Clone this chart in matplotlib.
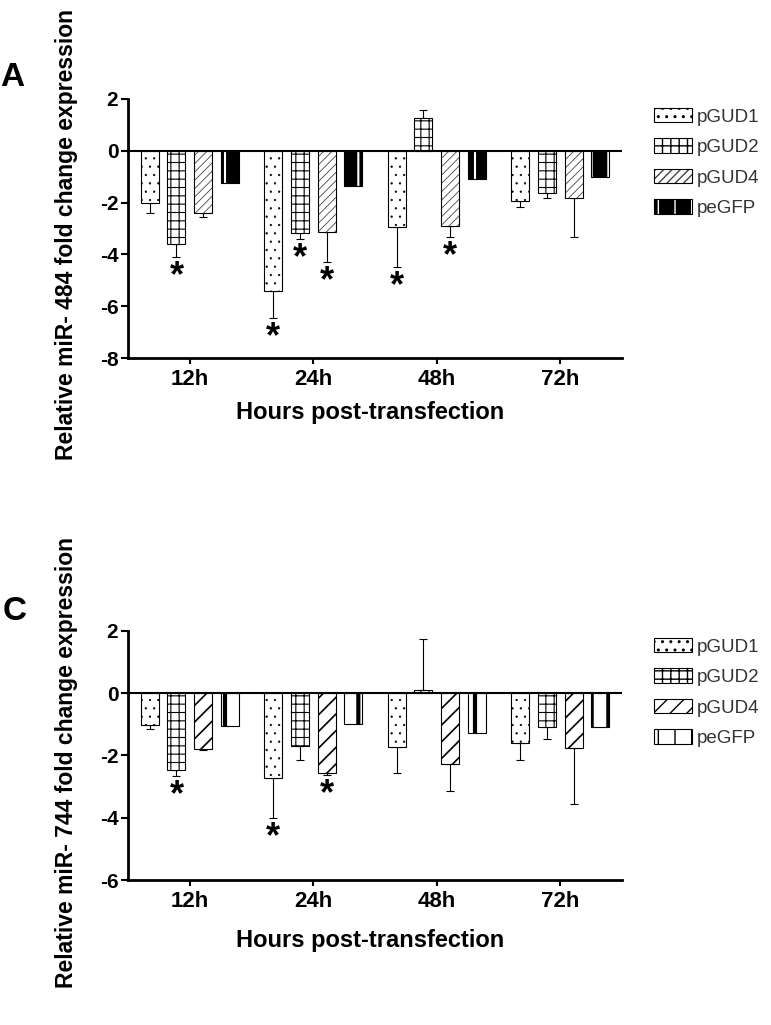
import numpy as np
import matplotlib
matplotlib.use('Agg')
import matplotlib.pyplot as plt
from matplotlib.patches import Patch

plt.rcParams['font.family'] = ['Liberation Sans', 'DejaVu Sans']
plt.rcParams['axes.unicode_minus'] = False

# data
hours = ['12h', '24h', '48h', '72h']
series = ['pGUD1', 'pGUD2', 'pGUD4', 'peGFP']

# panel A: miR-484
a_pgud1 = [-2.03, -5.40, -2.96, -1.93]
a_pgud2 = [-3.60, -3.17, 1.25, -1.64]
a_pgud4 = [-2.42, -3.13, -2.90, -1.84]
a_pegfp = [-1.24, -1.36, -1.10, -1.03]
a_err_pgud1 = [0.36, 1.07, 1.54, 0.23]
a_err_pgud2 = [0.52, 0.24, 0.32, 0.20]
a_err_pgud4 = [0.13, 1.18, 0.44, 1.50]
a_err_pegfp = [0, 0, 0, 0]
a_stars = [(0, 1), (1, 0), (1, 1), (1, 2), (2, 0), (2, 2)]  # (hour index, series index)

# panel C: miR-744
c_pgud1 = [-1.03, -2.72, -1.72, -1.59]
c_pgud2 = [-2.47, -1.70, 0.11, -1.08]
c_pgud4 = [-1.81, -2.56, -2.28, -1.78]
c_pegfp = [-1.07, -0.98, -1.27, -1.08]
c_err_pgud1 = [0.11, 1.29, 0.84, 0.56]
c_err_pgud2 = [0.20, 0.45, 1.61, 0.38]
c_err_pgud4 = [0.03, 0.08, 0.87, 1.78]
c_err_pegfp = [0, 0, 0, 0]
c_stars = [(0, 1), (1, 0), (1, 2)]

W, H = 771, 1025
step = 0.215
width = 0.146
offsets = (np.arange(4) - 1.5) * step
pos = np.arange(len(hours))


def set_hlw(patch, lw):
    if hasattr(patch, 'set_hatch_linewidth'):
        patch.set_hatch_linewidth(lw)


def draw_panel(ax, values, errors, stars, hatches, faces, hcolors, hlws, ymin):
    for i in range(len(series)):
        xs = pos + offsets[i]
        v = np.array(values[i])
        err = np.array(errors[i])
        fill = ax.bar(xs, v, width, color=faces[i], edgecolor=hcolors[i],
                      hatch=hatches[i], linewidth=0, zorder=2)
        for p in fill:
            set_hlw(p, hlws[i])
        ax.bar(xs, v, width, fill=False, edgecolor='black', linewidth=0.8, zorder=3)
        m = err > 0
        lower = np.where(v < 0, err, 0)
        upper = np.where(v >= 0, err, 0)
        if m.any():
            ax.errorbar(xs[m], v[m], yerr=[lower[m], upper[m]], fmt='none',
                        ecolor='black', elinewidth=0.8, capsize=3, capthick=0.8, zorder=1)
    for g, s in stars:
        v = values[s][g]
        e = errors[s][g]
        ax.annotate('*', (pos[g] + offsets[s], v - e), xytext=(0, -1.5),
                    textcoords='offset points', ha='center', va='top',
                    fontsize=26, fontweight='bold')

    ax.axhline(0, color='black', linewidth=1.5, zorder=4)
    ax.set_xlim(-0.5, 3.5)
    ax.set_ylim(ymin, 2)
    ax.set_yticks(range(ymin, 3, 2))
    ax.set_xticks(pos)
    ax.set_xticklabels(hours)
    for sp in ['top', 'right']:
        ax.spines[sp].set_visible(False)
    for sp in ['left', 'bottom']:
        ax.spines[sp].set_linewidth(2)
    ax.tick_params(axis='y', length=5, width=1.5, pad=2, labelsize=15)
    ax.tick_params(axis='x', length=4, width=1.5, pad=4, labelsize=16)
    for lab in ax.get_xticklabels() + ax.get_yticklabels():
        lab.set_fontweight('bold')

    handles = []
    for i in range(len(series)):
        p1 = Patch(facecolor=faces[i], edgecolor=hcolors[i], hatch=hatches[i], linewidth=0)
        set_hlw(p1, hlws[i])
        p2 = Patch(fill=False, edgecolor='black', linewidth=0.8)
        handles.append((p1, p2))
    return handles


fig = plt.figure(figsize=(W / 100, H / 100), dpi=100)

ax_a = fig.add_axes([128 / W, 1 - 358 / H, (622 - 128) / W, (358 - 98.9) / H])
h_a = draw_panel(ax_a,
                 [a_pgud1, a_pgud2, a_pgud4, a_pegfp],
                 [a_err_pgud1, a_err_pgud2, a_err_pgud4, a_err_pegfp],
                 a_stars,
                 ['..', '++', '////', '|'],
                 ['white', 'white', 'white', 'black'],
                 ['black', 'black', '#444444', 'white'],
                 [0.4, 0.8, 0.6, 1.5], -8)

ax_c = fig.add_axes([128 / W, 1 - 880 / H, (622 - 128) / W, (880 - 630.7) / H])
h_c = draw_panel(ax_c,
                 [c_pgud1, c_pgud2, c_pgud4, c_pegfp],
                 [c_err_pgud1, c_err_pgud2, c_err_pgud4, c_err_pegfp],
                 c_stars,
                 ['..', '++', '//', '|'],
                 ['white', 'white', 'white', 'white'],
                 ['black', 'black', 'black', 'black'],
                 [0.4, 0.8, 1.2, 3.0], -6)

for ax, handles, top in [(ax_a, h_a, 108), (ax_c, h_c, 638)]:
    fig.legend(handles, series, loc='upper left', bbox_to_anchor=(654 / W, 1 - top / H),
               frameon=False, borderpad=0, borderaxespad=0, handlelength=2.0,
               handleheight=0.8, handletextpad=0.3, labelspacing=0.68,
               prop={'size': 13.5}, labelcolor='#333333')

# axis titles
fig.text(67 / W, 1 - 234 / H, 'Relative miR- 484 fold change expression', rotation=90,
         ha='center', va='center', fontsize=16.5, fontweight='bold')
fig.text(67 / W, 1 - 762 / H, 'Relative miR- 744 fold change expression', rotation=90,
         ha='center', va='center', fontsize=16.5, fontweight='bold')
fig.text(370 / W, 1 - 413 / H, 'Hours post-transfection', ha='center', va='center',
         fontsize=17, fontweight='bold')
fig.text(370 / W, 1 - 941 / H, 'Hours post-transfection', ha='center', va='center',
         fontsize=17, fontweight='bold')

# panel letters
fig.text(0 / W, 1 - 78 / H, 'A', ha='left', va='center', fontsize=24, fontweight='bold')
fig.text(3 / W, 1 - 611 / H, 'C', ha='left', va='center', fontsize=24, fontweight='bold')

fig.savefig('out.png', dpi=100)
